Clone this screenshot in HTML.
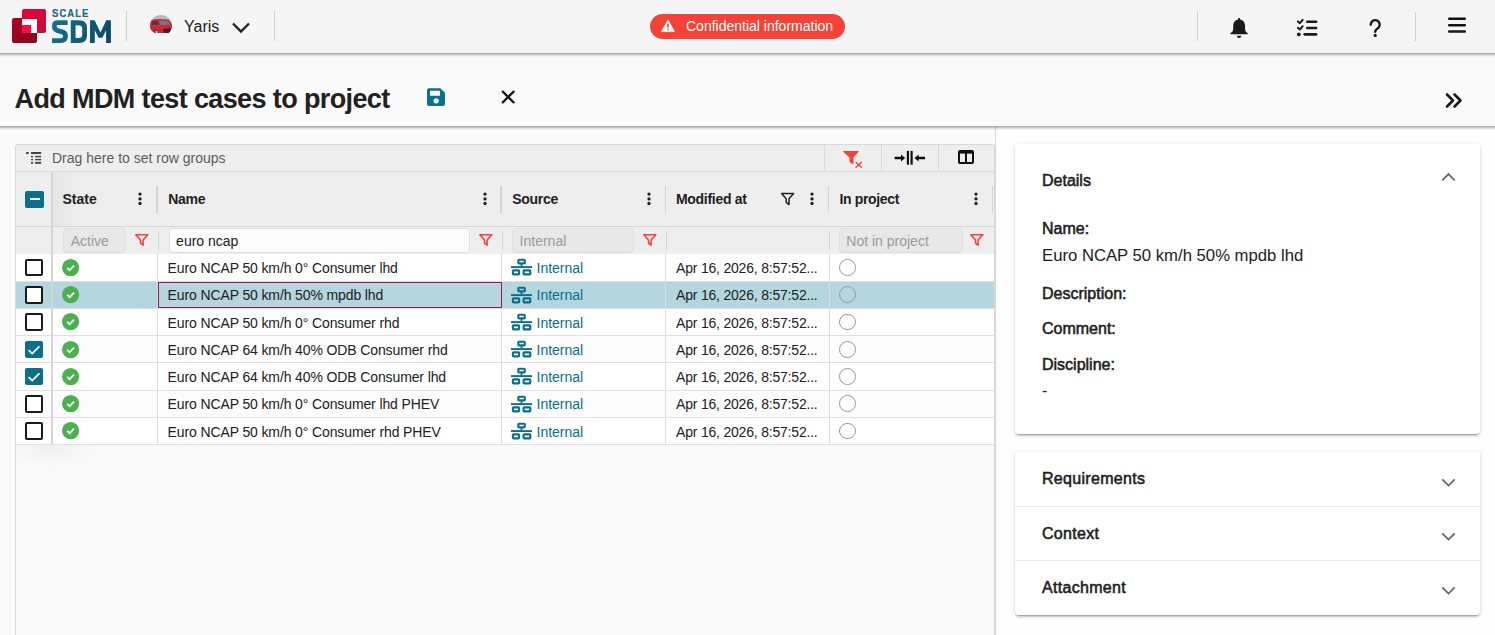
<!DOCTYPE html>
<html><head><meta charset="utf-8">
<style>
*{box-sizing:border-box;margin:0;padding:0}
html,body{width:1495px;height:635px;overflow:hidden;background:#fafafa;font-family:"Liberation Sans",sans-serif;color:#212121}
.abs{position:absolute}
#hdr{position:absolute;left:0;top:0;width:1495px;height:53px;background:#f5f5f5;box-shadow:inset 0 -1px 0 #fbfbfb;z-index:5}
.vsep{position:absolute;width:1px;background:#d0d0d0}
#titlebar{position:absolute;left:0;top:53px;width:1495px;height:73px;background:#fafafa;box-shadow:inset 0 -1px 0 #ffffff;z-index:4}
.shd{position:absolute;left:0;width:1495px;height:5px;background:linear-gradient(rgba(0,0,0,.32) 0px,rgba(0,0,0,.32) 1px,rgba(0,0,0,.2) 1px,rgba(0,0,0,.2) 2px,rgba(0,0,0,.1) 2px,rgba(0,0,0,.1) 3px,rgba(0,0,0,.045) 3px,rgba(0,0,0,.045) 4px,rgba(0,0,0,.015) 4px,rgba(0,0,0,0) 5px);z-index:6}
.t{position:absolute;white-space:nowrap;line-height:1}

#main{position:absolute;left:0;top:0;width:1495px;height:635px;z-index:1}
.gtext{position:absolute;white-space:nowrap;line-height:1;font-size:14px;color:#212121}
.hb{font-weight:700}
</style></head>
<body>
<div id="hdr">
  <!-- logo -->
  <div class="abs" style="left:12px;top:18px;width:24.5px;height:25px;border-radius:2px;background:linear-gradient(135deg,#b0001e,#840a22)"></div>
  <div class="abs" style="left:22px;top:9px;width:24px;height:24px;border-radius:2px;background:linear-gradient(135deg,#e8003a,#c2103a)"></div>
  <div class="abs" style="left:22px;top:19px;width:15px;height:14px;background:#fff"></div>
  <div class="abs" style="left:22px;top:25px;width:9px;height:8px;background:#ff0a40"></div>
  <div class="t" style="left:52px;top:8.2px;font-size:10.5px;font-weight:700;color:#196a85;letter-spacing:1.2px;transform:scaleX(0.9);transform-origin:0 0;-webkit-text-stroke:0.2px #196a85">SCALE</div>
  <svg class="abs" style="left:48px;top:5px" width="70" height="42" viewBox="0 0 70 42"><defs><linearGradient id="sg" gradientUnits="userSpaceOnUse" x1="4" y1="15" x2="63" y2="38"><stop offset="0" stop-color="#17728e"/><stop offset="1" stop-color="#0a4862"/></linearGradient></defs><path d="M19.6 17.6 H9 Q6.4 17.6 6.4 21.4 Q6.4 24.6 9.8 25.6 L14.2 26.9 Q17.5 27.9 17.5 31 Q17.5 35.6 12.8 35.6 H4" fill="none" stroke="url(#sg)" stroke-width="4.8" stroke-linejoin="round"/><path fill="url(#sg)" fill-rule="evenodd" d="M22.8 15.2 H31 Q39 15.2 39 23 V30.2 Q39 38 31 38 H22.8 Z M27.6 20.3 H30.5 Q34.2 20.3 34.2 23.7 V29.5 Q34.2 33.1 30.5 33.1 H27.6 Z"/><path fill="url(#sg)" d="M42 38 V15.2 H46.6 L52.45 27.4 L58.3 15.2 H62.9 V38 H58.1 V25.2 L54.3 32.8 H50.6 L46.8 25.2 V38 Z"/></svg>
  <div class="vsep" style="left:126px;top:11px;height:30px"></div>
  <!-- car -->
  <svg class="abs" style="left:150px;top:14.5px" width="22" height="21" viewBox="0 0 22 21"><defs><clipPath id="cc"><ellipse cx="11" cy="10.5" rx="11" ry="10.5"/></clipPath></defs><g clip-path="url(#cc)"><rect x="0" y="0" width="22" height="21" fill="#ececec"/><rect x="0" y="0" width="22" height="6" fill="#b9b9b9"/><path d="M0 6 Q4 3.5 9 4 L18 4.5 Q21 6 22 9 V17 L15 20 L5 18 L0 15 Z" fill="#c92a34"/><path d="M9 5.5 L18 6 L20.5 9.5 L10.5 10 Z" fill="#6e7a84"/><path d="M2 6.5 L7.5 5.5 L9 9.5 L1.5 10 Z" fill="#4a3a3e"/><path d="M13 14 L21 13 L21.5 17 L14 19.5 Z" fill="#5c1520"/><circle cx="6.5" cy="17" r="2.4" fill="#3a3a3a"/><circle cx="6.5" cy="17" r="1.2" fill="#c8c8c8"/><path d="M0 18 L22 18 V21 H0 Z" fill="#f0f0f0"/></g></svg>
  <div class="t" style="left:184px;top:19px;font-size:16px;color:#212121">Yaris</div>
  <svg class="abs" style="left:230px;top:19.5px" width="22" height="16" viewBox="0 0 22 16"><path d="M3 3.5 L11 11.5 L19 3.5" fill="none" stroke="#222" stroke-width="2.4"/></svg>
  <div class="vsep" style="left:274px;top:11px;height:30px"></div>
  <!-- pill -->
  <div class="abs" style="left:650px;top:14px;width:195px;height:25px;border-radius:12.5px;background:#f44336;box-shadow:0 0 0 1px #fbfbfb"></div>
  <svg class="abs" style="left:660px;top:19px" width="16" height="14" viewBox="0 0 16 14"><path d="M8 0.9 L14.6 12.6 H1.4 Z" fill="#fff" stroke="#fff" stroke-width="0.6" stroke-linejoin="round"/><rect x="7.2" y="4.6" width="1.6" height="4.1" fill="#f44336"/><rect x="7.2" y="9.7" width="1.6" height="1.5" fill="#f44336"/></svg>
  <div class="t" style="left:686px;top:19px;font-size:14px;color:#fff">Confidential information</div>
  <div class="vsep" style="left:1197px;top:12px;height:29px"></div>
  <div class="vsep" style="left:1415px;top:12px;height:29px"></div>
  <!-- bell -->
  <svg class="abs" style="left:1220px;top:10px" width="40" height="35" viewBox="0 0 40 35"><g fill="#1a1a1a"><rect x="18" y="8" width="2.2" height="3" rx="1.1"/><path d="M19.1 9.6 C15 9.6 13.2 12.8 13.2 16.3 V19.3 C13.2 21.3 11.6 22.3 10.5 23.3 Q10 24.2 11 24.2 H27.2 Q28.2 24.2 27.7 23.3 C26.6 22.3 25.1 21.3 25.1 19.3 V16.3 C25.1 12.8 23.2 9.6 19.1 9.6 Z"/><path d="M16.9 25.7 H21.3 A2.2 2.3 0 0 1 16.9 25.7 Z"/></g></svg>
  <!-- checklist -->
  <svg class="abs" style="left:1290px;top:12px" width="40" height="30" viewBox="0 0 40 30"><g fill="none" stroke="#1a1a1a" stroke-linecap="round" stroke-linejoin="round"><polyline points="7.9,9.5 9.9,11.2 12.7,7.9" stroke-width="2"/><polyline points="7.9,15.8 9.9,17.5 12.7,14.2" stroke-width="2"/><line x1="17.3" y1="9.7" x2="26.1" y2="9.7" stroke-width="2.6"/><line x1="17.3" y1="16" x2="26.1" y2="16" stroke-width="2.6"/><line x1="14.7" y1="22.35" x2="26.1" y2="22.35" stroke-width="2.6"/></g><circle cx="8.8" cy="22.4" r="1.9" fill="#1a1a1a"/></svg>
  <!-- help -->
  <svg class="abs" style="left:1360px;top:12px" width="30" height="30" viewBox="0 0 30 30"><path d="M10.7 12.8 A4.5 4.5 0 1 1 18.5 15.7 Q15.3 17.6 15.2 19.8" fill="none" stroke="#1a1a1a" stroke-width="2.4" stroke-linecap="round"/><circle cx="15.2" cy="23.4" r="1.6" fill="#1a1a1a"/></svg>
  <!-- hamburger -->
  <svg class="abs" style="left:1448px;top:17px" width="18" height="17" viewBox="0 0 18 17"><rect x="0" y="0.45" width="18" height="2.5" rx="1.1" fill="#111"/><rect x="0" y="6.9" width="18" height="2.5" rx="1.1" fill="#111"/><rect x="0" y="13.3" width="18" height="2.5" rx="1.1" fill="#1a1a1a"/></svg>
</div>
<div class="shd" style="top:53px"></div>
<div class="shd" style="top:126px"></div>
<div id="titlebar">
  <div class="t" style="left:14.5px;top:33px;font-size:27px;font-weight:700;color:#212121;letter-spacing:-0.62px">Add MDM test cases to project</div>
  <!-- save -->
  <svg class="abs" style="left:420px;top:29px" width="30" height="30" viewBox="0 0 30 30"><path fill="#0a7390" d="M9 6.3 H20.3 L25 10.8 V22 Q25 24 23 24 H9 Q7 24 7 22 V8.3 Q7 6.3 9 6.3 Z"/><rect x="10" y="8.8" width="10" height="4.9" rx="0.6" fill="#fff"/><circle cx="16.2" cy="18.8" r="2.6" fill="#fff"/></svg>
  <!-- close -->
  <svg class="abs" style="left:495px;top:29px" width="30" height="30" viewBox="0 0 30 30"><path d="M7.8 9.6 L18.6 20.4 M18.6 9.6 L7.8 20.4" stroke="#1a1a1a" stroke-width="2.3" stroke-linecap="round"/></svg>
  <!-- >> -->
  <svg class="abs" style="left:1440px;top:37px" width="28" height="24" viewBox="0 0 28 24"><path d="M7 4.5 L13 10.5 L7 16.5 M14.5 4.5 L20.5 10.5 L14.5 16.5" fill="none" stroke="#1a1a1a" stroke-width="2.6" stroke-linecap="round" stroke-linejoin="round"/></svg>
</div>
<div id="main">
<div class="abs" style="left:0;top:126px;width:995px;height:509px;background:#fafafa"></div>
<div class="abs" style="left:995px;top:126px;width:500px;height:509px;background:#fefefe;border-left:1px solid #d6d6d6"></div>
<div class="abs" style="left:15px;top:144px;width:980px;height:496px;background:#f9f9f9;border:1px solid #d9d9d9;border-radius:3px 3px 0 0"></div>
<div class="abs" style="left:16px;top:145px;width:978px;height:27px;background:#eeeeee;border-bottom:1px solid #d9d9d9;border-radius:2px 2px 0 0"></div>
<div class="abs" style="left:16px;top:172px;width:978px;height:55px;background:#eeeeee;border-bottom:1px solid #d6d6d6"></div>
<div class="abs" style="left:16px;top:227px;width:978px;height:28px;background:#eeeeee;border-bottom:1px solid #d6d6d6"></div>
<div class="abs" style="left:53px;top:172px;width:30px;height:54px;background:linear-gradient(90deg,rgba(0,0,0,.035),rgba(0,0,0,0))"></div>
<svg class="abs" style="left:24px;top:150px" width="20" height="18" viewBox="0 0 20 18"><g fill="#444"><rect x="2.1" y="2" width="2.6" height="2"/><rect x="7" y="2" width="10.2" height="2"/><rect x="7" y="5.8" width="2.1" height="1.5"/><rect x="11.1" y="5.8" width="6.1" height="1.5"/><rect x="7" y="8.9" width="2.1" height="1.4"/><rect x="11.1" y="8.9" width="6.1" height="1.4"/><rect x="7" y="11.9" width="2.1" height="1.9"/><rect x="11.1" y="11.9" width="6.1" height="1.9"/></g></svg>
<div class="gtext" style="left:52px;top:151px;color:#5c5c5c">Drag here to set row groups</div>
<div class="abs" style="left:824.0px;top:145px;width:1px;height:25px;background:#d9d9d9"></div>
<div class="abs" style="left:881.0px;top:145px;width:1px;height:25px;background:#d9d9d9"></div>
<div class="abs" style="left:938.0px;top:145px;width:1px;height:25px;background:#d9d9d9"></div>
<svg class="abs" style="left:840px;top:148px" width="26" height="24" viewBox="0 0 26 24"><path d="M3.5 3.5 H18.3 L13 9.5 V15.8 L10 14 V9.5 Z" fill="#f44336" stroke="#f44336" stroke-width="1" stroke-linejoin="round"/><path d="M15.6 14.1 L21.8 19.7 M21.8 14.1 L15.6 19.7" stroke="#f44336" stroke-width="1.3"/></svg>
<svg class="abs" style="left:890px;top:146px" width="40" height="22" viewBox="0 0 40 22"><g fill="#111"><rect x="16.8" y="4.9" width="2.2" height="13.8"/><rect x="20.5" y="4.9" width="2.2" height="13.8"/><path d="M4.6 10.8 H11 V8.4 L15.2 12 L11 15.6 V13.2 H4.6 Z"/><path d="M35.1 10.8 H28.6 V8.4 L24.5 12 L28.6 15.6 V13.2 H35.1 Z"/></g></svg>
<svg class="abs" style="left:955px;top:147px" width="22" height="20" viewBox="0 0 22 20"><path d="M5 4 H17 Q18 4 18 5 V15 Q18 16 17 16 H5 Q4 16 4 15 V5 Q4 4 5 4 Z" fill="none" stroke="#111" stroke-width="2"/><rect x="4" y="4" width="14" height="2.6" fill="#111"/><rect x="10" y="4" width="2" height="12" fill="#111"/></svg>
<div class="abs" style="left:25.4px;top:190.5px;width:18.2px;height:17.5px;background:#0d6e8a;border-radius:2px"></div>
<div class="abs" style="left:29.5px;top:198px;width:10px;height:2.4px;background:#fff"></div>
<div class="gtext hb" style="left:62.5px;top:191.8px;letter-spacing:0px">State</div>
<svg class="abs" style="left:137.4px;top:190px" width="6" height="18" viewBox="0 0 6 18"><circle cx="3" cy="4.1" r="1.65" fill="#222"/><circle cx="3" cy="8.9" r="1.65" fill="#222"/><circle cx="3" cy="13.5" r="1.65" fill="#222"/></svg>
<div class="abs" style="left:156.15px;top:186px;width:1.5px;height:27px;background:#d4d4d4"></div>
<div class="gtext hb" style="left:168.2px;top:191.8px;letter-spacing:-0.3px">Name</div>
<svg class="abs" style="left:481.6px;top:190px" width="6" height="18" viewBox="0 0 6 18"><circle cx="3" cy="4.1" r="1.65" fill="#222"/><circle cx="3" cy="8.9" r="1.65" fill="#222"/><circle cx="3" cy="13.5" r="1.65" fill="#222"/></svg>
<div class="abs" style="left:500.25px;top:186px;width:1.5px;height:27px;background:#d4d4d4"></div>
<div class="gtext hb" style="left:512.3px;top:191.8px;letter-spacing:-0.3px">Source</div>
<svg class="abs" style="left:645.6px;top:190px" width="6" height="18" viewBox="0 0 6 18"><circle cx="3" cy="4.1" r="1.65" fill="#222"/><circle cx="3" cy="8.9" r="1.65" fill="#222"/><circle cx="3" cy="13.5" r="1.65" fill="#222"/></svg>
<div class="abs" style="left:664.75px;top:186px;width:1.5px;height:27px;background:#d4d4d4"></div>
<div class="gtext hb" style="left:676px;top:191.8px;letter-spacing:-0.3px">Modified at</div>
<svg class="abs" style="left:808.8px;top:190px" width="6" height="18" viewBox="0 0 6 18"><circle cx="3" cy="4.1" r="1.65" fill="#222"/><circle cx="3" cy="8.9" r="1.65" fill="#222"/><circle cx="3" cy="13.5" r="1.65" fill="#222"/></svg>
<div class="abs" style="left:827.95px;top:186px;width:1.5px;height:27px;background:#d4d4d4"></div>
<svg class="abs" style="left:778px;top:190px" width="20" height="18" viewBox="0 0 20 18"><path d="M3.6 3.4 H15.6 L11 8.8 V14.6 L8.2 12.4 V8.8 Z" fill="none" stroke="#222" stroke-width="1.5" stroke-linejoin="round"/></svg>
<div class="gtext hb" style="left:839.5px;top:191.8px;letter-spacing:-0.35px">In project</div>
<svg class="abs" style="left:972.9px;top:190px" width="6" height="18" viewBox="0 0 6 18"><circle cx="3" cy="4.1" r="1.65" fill="#222"/><circle cx="3" cy="8.9" r="1.65" fill="#222"/><circle cx="3" cy="13.5" r="1.65" fill="#222"/></svg>
<div class="abs" style="left:991.65px;top:186px;width:1.5px;height:27px;background:#d4d4d4"></div>
<div class="abs" style="left:63.4px;top:227.5px;width:62.9px;height:25.5px;background:#e8e8e8;border:1px solid #e0e0e0;border-radius:4px"></div>
<div class="gtext" style="left:70.7px;top:234px;color:#9a9a9a">Active</div>
<svg class="abs" style="left:131.5px;top:231px" width="20" height="18" viewBox="0 0 20 18"><path d="M3.8 3.8 H15.8 L11.1 9 V14.2 L8.5 12.4 V9 Z" fill="none" stroke="#f44336" stroke-width="1.6" stroke-linejoin="round"/></svg>
<div class="abs" style="left:158.1px;top:231px;width:1px;height:19px;background:#d4d4d4"></div>
<div class="abs" style="left:168.8px;top:227.5px;width:301.2px;height:25.5px;background:#fbfbfb;border:1px solid #e0e0e0;border-radius:4px"></div>
<div class="gtext" style="left:176.10000000000002px;top:234px;color:#212121">euro ncap</div>
<svg class="abs" style="left:476px;top:231px" width="20" height="18" viewBox="0 0 20 18"><path d="M3.8 3.8 H15.8 L11.1 9 V14.2 L8.5 12.4 V9 Z" fill="none" stroke="#f44336" stroke-width="1.6" stroke-linejoin="round"/></svg>
<div class="abs" style="left:501.5px;top:231px;width:1px;height:19px;background:#d4d4d4"></div>
<div class="abs" style="left:512.3px;top:227.5px;width:121.70000000000005px;height:25.5px;background:#e8e8e8;border:1px solid #e0e0e0;border-radius:4px"></div>
<div class="gtext" style="left:519.5999999999999px;top:234px;color:#9a9a9a">Internal</div>
<svg class="abs" style="left:640px;top:231px" width="20" height="18" viewBox="0 0 20 18"><path d="M3.8 3.8 H15.8 L11.1 9 V14.2 L8.5 12.4 V9 Z" fill="none" stroke="#f44336" stroke-width="1.6" stroke-linejoin="round"/></svg>
<div class="abs" style="left:665.5px;top:231px;width:1px;height:19px;background:#d4d4d4"></div>
<div class="abs" style="left:828.8px;top:231px;width:1px;height:19px;background:#d4d4d4"></div>
<div class="abs" style="left:839px;top:227.5px;width:123.60000000000002px;height:25.5px;background:#e8e8e8;border:1px solid #e0e0e0;border-radius:4px"></div>
<div class="gtext" style="left:846.3px;top:234px;color:#9a9a9a">Not in project</div>
<svg class="abs" style="left:966.5px;top:231px" width="20" height="18" viewBox="0 0 20 18"><path d="M3.8 3.8 H15.8 L11.1 9 V14.2 L8.5 12.4 V9 Z" fill="none" stroke="#f44336" stroke-width="1.6" stroke-linejoin="round"/></svg>
<div class="abs" style="left:16px;top:254.35px;width:978px;height:27.25px;background:#ffffff;border-bottom:1px solid #e0e0e0"></div>
<div class="abs" style="left:156.8px;top:254.35px;width:1px;height:27.25px;background:#dedede"></div>
<div class="abs" style="left:501.0px;top:254.35px;width:1px;height:27.25px;background:#dedede"></div>
<div class="abs" style="left:665.3px;top:254.35px;width:1px;height:27.25px;background:#dedede"></div>
<div class="abs" style="left:829.0px;top:254.35px;width:1px;height:27.25px;background:#dedede"></div>
<div class="abs" style="left:25px;top:258.85px;width:18px;height:17.6px;border:2.2px solid #1a1a1a;border-radius:2px;background:#fff"></div>
<svg class="abs" style="left:62px;top:258.85px" width="18" height="18" viewBox="0 0 18 18"><circle cx="8.6" cy="8.6" r="8.6" fill="#4caf50"/><path d="M5.2 8.9 L7.6 11.2 L12.1 6.7" fill="none" stroke="#fff" stroke-width="1.7"/></svg>
<div class="gtext" style="left:167.6px;top:261.2px;letter-spacing:-0.12px">Euro NCAP 50 km/h 0° Consumer lhd</div>
<svg class="abs" style="left:510px;top:258.35px" width="24" height="20" viewBox="0 0 24 20"><g fill="none" stroke="#0d6e8a" stroke-width="2.1"><rect x="8.3" y="1.75" width="6.5" height="3.6" rx="0.7"/><rect x="2.9" y="12.35" width="6.2" height="4.0" rx="0.7"/><rect x="13.6" y="12.35" width="6.7" height="4.0" rx="0.7"/></g><rect x="1" y="8.15" width="21" height="1.9" fill="#0d6e8a"/><rect x="10.6" y="5" width="1.8" height="3.5" fill="#0d6e8a"/></svg>
<div class="gtext" style="left:536.5px;top:261.2px;color:#0b6e8a">Internal</div>
<div class="gtext" style="left:676px;top:261.2px;letter-spacing:-0.2px">Apr 16, 2026, 8:57:52...</div>
<div class="abs" style="left:838.9px;top:259.05px;width:16.8px;height:16.8px;border:1.5px solid #999;border-radius:50%"></div>
<div class="abs" style="left:16px;top:281.6px;width:978px;height:27.25px;background:#b3d6df;border-bottom:1px solid #e0e0e0"></div>
<div class="abs" style="left:156.8px;top:281.6px;width:1px;height:27.25px;background:#dedede"></div>
<div class="abs" style="left:501.0px;top:281.6px;width:1px;height:27.25px;background:#dedede"></div>
<div class="abs" style="left:665.3px;top:281.6px;width:1px;height:27.25px;background:#dedede"></div>
<div class="abs" style="left:829.0px;top:281.6px;width:1px;height:27.25px;background:#dedede"></div>
<div class="abs" style="left:25px;top:286.1px;width:18px;height:17.6px;border:2.2px solid #1a1a1a;border-radius:2px;background:#fff"></div>
<svg class="abs" style="left:62px;top:286.1px" width="18" height="18" viewBox="0 0 18 18"><circle cx="8.6" cy="8.6" r="8.6" fill="#4caf50"/><path d="M5.2 8.9 L7.6 11.2 L12.1 6.7" fill="none" stroke="#fff" stroke-width="1.7"/></svg>
<div class="gtext" style="left:167.6px;top:288.45000000000005px;letter-spacing:-0.12px">Euro NCAP 50 km/h 50% mpdb lhd</div>
<svg class="abs" style="left:510px;top:285.6px" width="24" height="20" viewBox="0 0 24 20"><g fill="none" stroke="#0d6e8a" stroke-width="2.1"><rect x="8.3" y="1.75" width="6.5" height="3.6" rx="0.7"/><rect x="2.9" y="12.35" width="6.2" height="4.0" rx="0.7"/><rect x="13.6" y="12.35" width="6.7" height="4.0" rx="0.7"/></g><rect x="1" y="8.15" width="21" height="1.9" fill="#0d6e8a"/><rect x="10.6" y="5" width="1.8" height="3.5" fill="#0d6e8a"/></svg>
<div class="gtext" style="left:536.5px;top:288.45000000000005px;color:#0b6e8a">Internal</div>
<div class="gtext" style="left:676px;top:288.45000000000005px;letter-spacing:-0.2px">Apr 16, 2026, 8:57:52...</div>
<div class="abs" style="left:838.9px;top:286.3px;width:16.8px;height:16.8px;border:1.5px solid #999;border-radius:50%"></div>
<div class="abs" style="left:16px;top:308.85px;width:978px;height:27.25px;background:#ffffff;border-bottom:1px solid #e0e0e0"></div>
<div class="abs" style="left:156.8px;top:308.85px;width:1px;height:27.25px;background:#dedede"></div>
<div class="abs" style="left:501.0px;top:308.85px;width:1px;height:27.25px;background:#dedede"></div>
<div class="abs" style="left:665.3px;top:308.85px;width:1px;height:27.25px;background:#dedede"></div>
<div class="abs" style="left:829.0px;top:308.85px;width:1px;height:27.25px;background:#dedede"></div>
<div class="abs" style="left:25px;top:313.35px;width:18px;height:17.6px;border:2.2px solid #1a1a1a;border-radius:2px;background:#fff"></div>
<svg class="abs" style="left:62px;top:313.35px" width="18" height="18" viewBox="0 0 18 18"><circle cx="8.6" cy="8.6" r="8.6" fill="#4caf50"/><path d="M5.2 8.9 L7.6 11.2 L12.1 6.7" fill="none" stroke="#fff" stroke-width="1.7"/></svg>
<div class="gtext" style="left:167.6px;top:315.70000000000005px;letter-spacing:-0.12px">Euro NCAP 50 km/h 0° Consumer rhd</div>
<svg class="abs" style="left:510px;top:312.85px" width="24" height="20" viewBox="0 0 24 20"><g fill="none" stroke="#0d6e8a" stroke-width="2.1"><rect x="8.3" y="1.75" width="6.5" height="3.6" rx="0.7"/><rect x="2.9" y="12.35" width="6.2" height="4.0" rx="0.7"/><rect x="13.6" y="12.35" width="6.7" height="4.0" rx="0.7"/></g><rect x="1" y="8.15" width="21" height="1.9" fill="#0d6e8a"/><rect x="10.6" y="5" width="1.8" height="3.5" fill="#0d6e8a"/></svg>
<div class="gtext" style="left:536.5px;top:315.70000000000005px;color:#0b6e8a">Internal</div>
<div class="gtext" style="left:676px;top:315.70000000000005px;letter-spacing:-0.2px">Apr 16, 2026, 8:57:52...</div>
<div class="abs" style="left:838.9px;top:313.55px;width:16.8px;height:16.8px;border:1.5px solid #999;border-radius:50%"></div>
<div class="abs" style="left:16px;top:336.1px;width:978px;height:27.25px;background:#fcfcfc;border-bottom:1px solid #e0e0e0"></div>
<div class="abs" style="left:156.8px;top:336.1px;width:1px;height:27.25px;background:#dedede"></div>
<div class="abs" style="left:501.0px;top:336.1px;width:1px;height:27.25px;background:#dedede"></div>
<div class="abs" style="left:665.3px;top:336.1px;width:1px;height:27.25px;background:#dedede"></div>
<div class="abs" style="left:829.0px;top:336.1px;width:1px;height:27.25px;background:#dedede"></div>
<div class="abs" style="left:25px;top:340.6px;width:18px;height:17.6px;background:#0d6e8a;border-radius:2px"></div>
<svg class="abs" style="left:25px;top:340.6px" width="18" height="18" viewBox="0 0 18 18"><path d="M3.6 9.2 L7.2 12.6 L14.4 5.4" fill="none" stroke="#fff" stroke-width="1.8"/></svg>
<svg class="abs" style="left:62px;top:340.6px" width="18" height="18" viewBox="0 0 18 18"><circle cx="8.6" cy="8.6" r="8.6" fill="#4caf50"/><path d="M5.2 8.9 L7.6 11.2 L12.1 6.7" fill="none" stroke="#fff" stroke-width="1.7"/></svg>
<div class="gtext" style="left:167.6px;top:342.95000000000005px;letter-spacing:-0.12px">Euro NCAP 64 km/h 40% ODB Consumer rhd</div>
<svg class="abs" style="left:510px;top:340.1px" width="24" height="20" viewBox="0 0 24 20"><g fill="none" stroke="#0d6e8a" stroke-width="2.1"><rect x="8.3" y="1.75" width="6.5" height="3.6" rx="0.7"/><rect x="2.9" y="12.35" width="6.2" height="4.0" rx="0.7"/><rect x="13.6" y="12.35" width="6.7" height="4.0" rx="0.7"/></g><rect x="1" y="8.15" width="21" height="1.9" fill="#0d6e8a"/><rect x="10.6" y="5" width="1.8" height="3.5" fill="#0d6e8a"/></svg>
<div class="gtext" style="left:536.5px;top:342.95000000000005px;color:#0b6e8a">Internal</div>
<div class="gtext" style="left:676px;top:342.95000000000005px;letter-spacing:-0.2px">Apr 16, 2026, 8:57:52...</div>
<div class="abs" style="left:838.9px;top:340.8px;width:16.8px;height:16.8px;border:1.5px solid #999;border-radius:50%"></div>
<div class="abs" style="left:16px;top:363.35px;width:978px;height:27.25px;background:#ffffff;border-bottom:1px solid #e0e0e0"></div>
<div class="abs" style="left:156.8px;top:363.35px;width:1px;height:27.25px;background:#dedede"></div>
<div class="abs" style="left:501.0px;top:363.35px;width:1px;height:27.25px;background:#dedede"></div>
<div class="abs" style="left:665.3px;top:363.35px;width:1px;height:27.25px;background:#dedede"></div>
<div class="abs" style="left:829.0px;top:363.35px;width:1px;height:27.25px;background:#dedede"></div>
<div class="abs" style="left:25px;top:367.85px;width:18px;height:17.6px;background:#0d6e8a;border-radius:2px"></div>
<svg class="abs" style="left:25px;top:367.85px" width="18" height="18" viewBox="0 0 18 18"><path d="M3.6 9.2 L7.2 12.6 L14.4 5.4" fill="none" stroke="#fff" stroke-width="1.8"/></svg>
<svg class="abs" style="left:62px;top:367.85px" width="18" height="18" viewBox="0 0 18 18"><circle cx="8.6" cy="8.6" r="8.6" fill="#4caf50"/><path d="M5.2 8.9 L7.6 11.2 L12.1 6.7" fill="none" stroke="#fff" stroke-width="1.7"/></svg>
<div class="gtext" style="left:167.6px;top:370.20000000000005px;letter-spacing:-0.12px">Euro NCAP 64 km/h 40% ODB Consumer lhd</div>
<svg class="abs" style="left:510px;top:367.35px" width="24" height="20" viewBox="0 0 24 20"><g fill="none" stroke="#0d6e8a" stroke-width="2.1"><rect x="8.3" y="1.75" width="6.5" height="3.6" rx="0.7"/><rect x="2.9" y="12.35" width="6.2" height="4.0" rx="0.7"/><rect x="13.6" y="12.35" width="6.7" height="4.0" rx="0.7"/></g><rect x="1" y="8.15" width="21" height="1.9" fill="#0d6e8a"/><rect x="10.6" y="5" width="1.8" height="3.5" fill="#0d6e8a"/></svg>
<div class="gtext" style="left:536.5px;top:370.20000000000005px;color:#0b6e8a">Internal</div>
<div class="gtext" style="left:676px;top:370.20000000000005px;letter-spacing:-0.2px">Apr 16, 2026, 8:57:52...</div>
<div class="abs" style="left:838.9px;top:368.05px;width:16.8px;height:16.8px;border:1.5px solid #999;border-radius:50%"></div>
<div class="abs" style="left:16px;top:390.6px;width:978px;height:27.25px;background:#fcfcfc;border-bottom:1px solid #e0e0e0"></div>
<div class="abs" style="left:156.8px;top:390.6px;width:1px;height:27.25px;background:#dedede"></div>
<div class="abs" style="left:501.0px;top:390.6px;width:1px;height:27.25px;background:#dedede"></div>
<div class="abs" style="left:665.3px;top:390.6px;width:1px;height:27.25px;background:#dedede"></div>
<div class="abs" style="left:829.0px;top:390.6px;width:1px;height:27.25px;background:#dedede"></div>
<div class="abs" style="left:25px;top:395.1px;width:18px;height:17.6px;border:2.2px solid #1a1a1a;border-radius:2px;background:#fff"></div>
<svg class="abs" style="left:62px;top:395.1px" width="18" height="18" viewBox="0 0 18 18"><circle cx="8.6" cy="8.6" r="8.6" fill="#4caf50"/><path d="M5.2 8.9 L7.6 11.2 L12.1 6.7" fill="none" stroke="#fff" stroke-width="1.7"/></svg>
<div class="gtext" style="left:167.6px;top:397.45000000000005px;letter-spacing:-0.12px">Euro NCAP 50 km/h 0° Consumer lhd PHEV</div>
<svg class="abs" style="left:510px;top:394.6px" width="24" height="20" viewBox="0 0 24 20"><g fill="none" stroke="#0d6e8a" stroke-width="2.1"><rect x="8.3" y="1.75" width="6.5" height="3.6" rx="0.7"/><rect x="2.9" y="12.35" width="6.2" height="4.0" rx="0.7"/><rect x="13.6" y="12.35" width="6.7" height="4.0" rx="0.7"/></g><rect x="1" y="8.15" width="21" height="1.9" fill="#0d6e8a"/><rect x="10.6" y="5" width="1.8" height="3.5" fill="#0d6e8a"/></svg>
<div class="gtext" style="left:536.5px;top:397.45000000000005px;color:#0b6e8a">Internal</div>
<div class="gtext" style="left:676px;top:397.45000000000005px;letter-spacing:-0.2px">Apr 16, 2026, 8:57:52...</div>
<div class="abs" style="left:838.9px;top:395.3px;width:16.8px;height:16.8px;border:1.5px solid #999;border-radius:50%"></div>
<div class="abs" style="left:16px;top:417.85px;width:978px;height:27.25px;background:#ffffff;border-bottom:1px solid #e0e0e0"></div>
<div class="abs" style="left:156.8px;top:417.85px;width:1px;height:27.25px;background:#dedede"></div>
<div class="abs" style="left:501.0px;top:417.85px;width:1px;height:27.25px;background:#dedede"></div>
<div class="abs" style="left:665.3px;top:417.85px;width:1px;height:27.25px;background:#dedede"></div>
<div class="abs" style="left:829.0px;top:417.85px;width:1px;height:27.25px;background:#dedede"></div>
<div class="abs" style="left:25px;top:422.35px;width:18px;height:17.6px;border:2.2px solid #1a1a1a;border-radius:2px;background:#fff"></div>
<svg class="abs" style="left:62px;top:422.35px" width="18" height="18" viewBox="0 0 18 18"><circle cx="8.6" cy="8.6" r="8.6" fill="#4caf50"/><path d="M5.2 8.9 L7.6 11.2 L12.1 6.7" fill="none" stroke="#fff" stroke-width="1.7"/></svg>
<div class="gtext" style="left:167.6px;top:424.70000000000005px;letter-spacing:-0.12px">Euro NCAP 50 km/h 0° Consumer rhd PHEV</div>
<svg class="abs" style="left:510px;top:421.85px" width="24" height="20" viewBox="0 0 24 20"><g fill="none" stroke="#0d6e8a" stroke-width="2.1"><rect x="8.3" y="1.75" width="6.5" height="3.6" rx="0.7"/><rect x="2.9" y="12.35" width="6.2" height="4.0" rx="0.7"/><rect x="13.6" y="12.35" width="6.7" height="4.0" rx="0.7"/></g><rect x="1" y="8.15" width="21" height="1.9" fill="#0d6e8a"/><rect x="10.6" y="5" width="1.8" height="3.5" fill="#0d6e8a"/></svg>
<div class="gtext" style="left:536.5px;top:424.70000000000005px;color:#0b6e8a">Internal</div>
<div class="gtext" style="left:676px;top:424.70000000000005px;letter-spacing:-0.2px">Apr 16, 2026, 8:57:52...</div>
<div class="abs" style="left:838.9px;top:422.55px;width:16.8px;height:16.8px;border:1.5px solid #999;border-radius:50%"></div>
<div class="abs" style="left:51px;top:172px;width:2px;height:272px;background:#d6d6d6"></div>
<div class="abs" style="left:16px;top:445px;width:110px;height:45px;background:radial-gradient(ellipse 45px 22px at 35px 0px,rgba(0,0,0,.04),rgba(0,0,0,0))"></div>
<div class="abs" style="left:158px;top:282.20000000000005px;width:343.5px;height:26.05px;border:1.3px solid #a3173f"></div>
<div class="abs" style="left:1015px;top:144px;width:465px;height:289.5px;background:#fff;border-radius:4px;box-shadow:0 3px 1px -2px rgba(0,0,0,.2),0 2px 2px 0 rgba(0,0,0,.14),0 1px 5px 0 rgba(0,0,0,.12)"></div>
<div class="abs" style="left:1015px;top:451.5px;width:465px;height:163.5px;background:#fff;border-radius:1px 1px 4px 4px;box-shadow:0 3px 1px -2px rgba(0,0,0,.2),0 2px 2px 0 rgba(0,0,0,.14),0 1px 5px 0 rgba(0,0,0,.12)"></div>
<div class="t" style="left:1042px;top:173.3px;font-size:16px;font-weight:400;color:#212121;-webkit-text-stroke:0.55px #212121;">Details</div>
<svg class="abs" style="left:1441px;top:171.5px" width="15" height="11" viewBox="0 0 15 11"><path d="M1.3 8.3 L7.5 2.1 L13.7 8.3" fill="none" stroke="#666" stroke-width="1.75"/></svg>
<div class="t" style="left:1042px;top:221.3px;font-size:16px;font-weight:400;color:#212121;-webkit-text-stroke:0.55px #212121;">Name:</div>
<div class="t" style="left:1042px;top:247.8px;font-size:16.7px;font-weight:400;color:#212121;">Euro NCAP 50 km/h 50% mpdb lhd</div>
<div class="t" style="left:1042px;top:285.5px;font-size:16px;font-weight:400;color:#212121;-webkit-text-stroke:0.55px #212121;">Description:</div>
<div class="t" style="left:1042px;top:321.4px;font-size:16px;font-weight:400;color:#212121;-webkit-text-stroke:0.55px #212121;">Comment:</div>
<div class="t" style="left:1042px;top:357.3px;font-size:16px;font-weight:400;color:#212121;-webkit-text-stroke:0.55px #212121;">Discipline:</div>
<div class="t" style="left:1042px;top:383px;font-size:16px;font-weight:400;color:#212121;">-</div>
<div class="t" style="left:1042px;top:471.4px;font-size:16px;font-weight:400;color:#212121;-webkit-text-stroke:0.55px #212121;letter-spacing:0.3px;">Requirements</div>
<svg class="abs" style="left:1441px;top:476.5px" width="15" height="11" viewBox="0 0 15 11"><path d="M1.3 2.3 L7.5 8.5 L13.7 2.3" fill="none" stroke="#666" stroke-width="1.75"/></svg>
<div class="abs" style="left:1015px;top:505.75px;width:465px;height:1px;background:#ececec"></div>
<div class="t" style="left:1042px;top:525.65px;font-size:16px;font-weight:400;color:#212121;-webkit-text-stroke:0.55px #212121;letter-spacing:0.3px;">Context</div>
<svg class="abs" style="left:1441px;top:530.75px" width="15" height="11" viewBox="0 0 15 11"><path d="M1.3 2.3 L7.5 8.5 L13.7 2.3" fill="none" stroke="#666" stroke-width="1.75"/></svg>
<div class="abs" style="left:1015px;top:560.0px;width:465px;height:1px;background:#ececec"></div>
<div class="t" style="left:1042px;top:579.9px;font-size:16px;font-weight:400;color:#212121;-webkit-text-stroke:0.55px #212121;letter-spacing:0.3px;">Attachment</div>
<svg class="abs" style="left:1441px;top:585.0px" width="15" height="11" viewBox="0 0 15 11"><path d="M1.3 2.3 L7.5 8.5 L13.7 2.3" fill="none" stroke="#666" stroke-width="1.75"/></svg>
</div>
</body></html>
